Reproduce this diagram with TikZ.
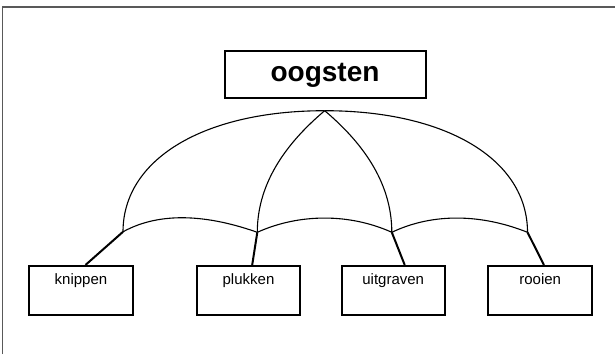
\documentclass[tikz,border=0pt]{standalone}
\usepackage{fontspec}
\setmainfont{Liberation Sans}
\begin{document}
\begin{tikzpicture}[x=1pt,y=-1pt,
  box/.style={draw=black,line width=2pt,minimum width=#1,minimum height=48.7pt,inner sep=0pt},
  topbox/.style={draw=black,line width=2pt,minimum width=201pt,minimum height=47.3pt,inner sep=0pt},
  lbl/.style={anchor=base,inner sep=0pt,font=\fontsize{15}{18}\selectfont},
  arc/.style={line width=1.1pt,black},
  conn/.style={line width=2pt,black},
  frame/.style={line width=1.5pt,draw=black!65}]
\useasboundingbox (0,0) rectangle (615,354);
\draw[frame] (2.5,354) -- (2.5,7) -- (615,7);
% top box
\node[topbox] (top) at (325.1,74.7) {};
\node[anchor=base,inner sep=0pt,font=\fontsize{28}{32}\selectfont\bfseries] (toptxt) at (325,81) {oogsten};
% bottom boxes
\node[box=104pt] (kb) at (81.2,290.3) {};
\node[box=103.5pt] (pb) at (248.5,290.3) {};
\node[box=103.5pt] (ub) at (393.4,290.3) {};
\node[box=103.5pt] (rb) at (540.2,290.3) {};
\node[lbl] (kt) at (81,284) {knippen};
\node[lbl] (pt) at (248.5,284) {plukken};
\node[lbl] (ut) at (393.2,284) {uitgraven};
\node[lbl] (rt) at (540.2,284) {rooien};
% junctions
\coordinate (apex) at (324.7,110.7);
\coordinate (j1) at (123,231.8);
\coordinate (j2) at (257.3,232.3);
\coordinate (j3) at (391.8,232.3);
\coordinate (j4) at (527.5,232.3);
% umbrella arcs
\draw[arc] (apex) .. controls (203.5,110.7) and (123,159.3) .. (j1);
\draw[arc] (apex) .. controls (446,110.7) and (527.5,159.3) .. (j4);
\draw[arc] (apex) .. controls (290,140) and (257.3,180) .. (j2);
\draw[arc] (apex) .. controls (359.4,140) and (391.8,180) .. (j3);
% scallops
\draw[arc] (j1) .. controls +(38,-21) and +(-48,-17) .. (j2);
\draw[arc] (j2) .. controls +(42,-19) and +(-42,-19) .. (j3);
\draw[arc] (j3) .. controls +(42,-20) and +(-45,-18) .. (j4);
% connectors
\draw[conn] (j1) -- ([xshift=4.3pt]kb.north);
\draw[conn] (j2) -- ([xshift=3.7pt]pb.north);
\draw[conn] (j3) -- ([xshift=11.3pt]ub.north);
\draw[conn] (j4) -- ([xshift=3.7pt]rb.north);
\end{tikzpicture}
\end{document}
